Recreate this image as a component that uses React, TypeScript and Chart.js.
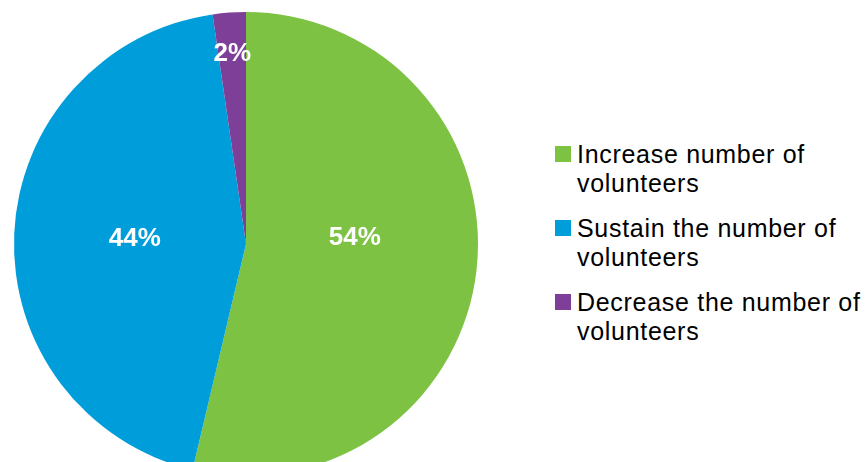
import React, { useEffect, useRef } from "react";
import { Chart, ArcElement, PieController } from "chart.js";

Chart.register(ArcElement, PieController);

const categories = [
  "Increase number of volunteers",
  "Sustain the number of volunteers",
  "Decrease the number of volunteers",
];
const legendLines = [
  ["Increase number of", "volunteers"],
  ["Sustain the number of", "volunteers"],
  ["Decrease the number of", "volunteers"],
];
const shares = [53.7, 44.0, 2.3];
const colors = ["#7DC242", "#009DDB", "#7D3F98"];

const labelRadius = [0.47, 0.48, 0.82];
const labelShiftDeg = [-10, 0, 0];

const labelPlugin = {
  id: "sliceLabels",
  afterDatasetsDraw(chart: any) {
    const ctx = chart.ctx;
    const meta = chart.getDatasetMeta(0);
    meta.data.forEach((arc: any, i: number) => {
      const p = arc.getProps(["x", "y", "startAngle", "endAngle", "outerRadius"], true);
      const mid = (p.startAngle + p.endAngle) / 2 + (labelShiftDeg[i] * Math.PI) / 180;
      const r = p.outerRadius * labelRadius[i];
      ctx.save();
      ctx.fillStyle = "#ffffff";
      ctx.font = "bold 26px 'Liberation Sans', Arial, sans-serif";
      ctx.textAlign = "center";
      ctx.textBaseline = "middle";
      ctx.fillText(Math.round(shares[i]) + "%", p.x + r * Math.cos(mid), p.y + r * Math.sin(mid));
      ctx.restore();
    });
  },
};

export default function App() {
  const ref = useRef<HTMLCanvasElement | null>(null);
  useEffect(() => {
    if (!ref.current) return;
    const chart = new Chart(ref.current, {
      type: "pie",
      data: {
        labels: categories,
        datasets: [
          {
            data: shares,
            backgroundColor: colors,
            borderWidth: 0,
          },
        ],
      },
      options: {
        animation: false,
        responsive: true,
        maintainAspectRatio: false,
        layout: { padding: { left: 14, right: 14, top: 12, bottom: 10 } },
        plugins: { legend: { display: false }, tooltip: { enabled: false } } as any,
      },
      plugins: [labelPlugin],
    });
    return () => chart.destroy();
  }, []);

  return (
    <div
      style={{
        position: "fixed",
        left: 0,
        top: 0,
        width: 866,
        height: 462,
        overflow: "hidden",
        background: "#ffffff",
      }}
    >
      <div style={{ position: "absolute", left: 0, top: 0, width: 492, height: 486 }}>
        <canvas ref={ref} />
      </div>
      {legendLines.map((lines, i) => (
        <div
          key={i}
          style={{
            position: "absolute",
            left: 555,
            top: 139.5 + 74 * i,
            fontFamily: "'Liberation Sans', Arial, sans-serif",
            fontSize: 25,
            lineHeight: "29.5px",
            letterSpacing: "0.7px",
            color: "#000000",
            whiteSpace: "nowrap",
          }}
        >
          <span
            style={{
              position: "absolute",
              left: 0,
              top: 6.5,
              width: 16,
              height: 16,
              background: colors[i],
            }}
          />
          <div style={{ marginLeft: 22 }}>
            {lines.map((l, j) => (
              <div key={j}>{l}</div>
            ))}
          </div>
        </div>
      ))}
    </div>
  );
}
